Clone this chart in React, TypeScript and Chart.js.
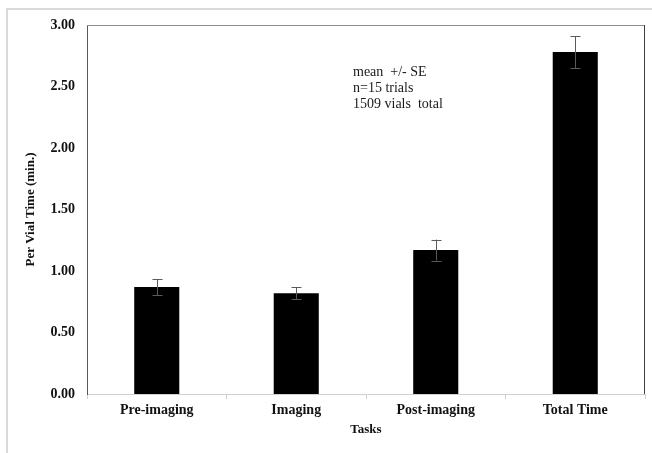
import React, { useEffect, useRef } from "react";
import { Chart, registerables } from "chart.js";

Chart.register(...registerables);

const categories = ["Pre-imaging", "Imaging", "Post-imaging", "Total Time"];
const means = [0.87, 0.82, 1.17, 2.78];
const errors = [0.065, 0.05, 0.085, 0.13];
const annotationLines = ["mean  +/- SE", "n=15 trials", "1509 vials  total"];
const yTitle = "Per Vial Time (min.)";
const xTitle = "Tasks";

const FONT = '"Liberation Serif", "Times New Roman", serif';

const decorPlugin = {
  id: "decor",
  beforeDraw(chart: any) {
    const ctx = chart.ctx;
    ctx.save();
    ctx.fillStyle = "#ffffff";
    ctx.fillRect(0, 0, chart.width, chart.height);
    ctx.strokeStyle = "#d9d9d9";
    ctx.lineWidth = 2;
    ctx.beginPath();
    ctx.moveTo(7, chart.height);
    ctx.lineTo(7, 9);
    ctx.lineTo(chart.width, 9);
    ctx.stroke();
    ctx.restore();
  },
  afterDatasetsDraw(chart: any) {
    const ctx = chart.ctx;
    const y = chart.scales.y;
    const meta = chart.getDatasetMeta(0);
    const area = chart.chartArea;
    ctx.save();
    // plot box top/right
    ctx.lineWidth = 1;
    ctx.strokeStyle = "#8c8c8c";
    ctx.beginPath();
    ctx.moveTo(area.left, area.top + 0.5);
    ctx.lineTo(area.right, area.top + 0.5);
    ctx.stroke();
    ctx.strokeStyle = "#404040";
    ctx.beginPath();
    ctx.moveTo(area.right - 0.5, area.top);
    ctx.lineTo(area.right - 0.5, area.bottom);
    ctx.stroke();
    // error bars
    ctx.strokeStyle = "#5a5a5a";
    ctx.lineWidth = 1;
    meta.data.forEach((el: any, i: number) => {
      const x = Math.round(el.x) + 0.5;
      const top = y.getPixelForValue(means[i] + errors[i]);
      const bot = y.getPixelForValue(means[i] - errors[i]);
      ctx.beginPath();
      ctx.moveTo(x, top);
      ctx.lineTo(x, bot);
      ctx.moveTo(x - 5, Math.round(top) + 0.5);
      ctx.lineTo(x + 5, Math.round(top) + 0.5);
      ctx.moveTo(x - 5, Math.round(bot) + 0.5);
      ctx.lineTo(x + 5, Math.round(bot) + 0.5);
      ctx.stroke();
    });
    // annotation
    ctx.fillStyle = "#1a1a1a";
    ctx.font = `14px ${FONT}`;
    ctx.textAlign = "left";
    ctx.textBaseline = "middle";
    annotationLines.forEach((t, i) => {
      ctx.fillText(t, area.left + 266, area.top + 47 + i * 16);
    });
    // titles
    ctx.font = `bold 13px ${FONT}`;
    ctx.fillStyle = "#111111";
    ctx.textAlign = "center";
    ctx.fillText(xTitle, (area.left + area.right) / 2, 430);
    ctx.translate(31, (area.top + area.bottom) / 2);
    ctx.rotate(-Math.PI / 2);
    ctx.fillText(yTitle, 0, 0);
    ctx.restore();
  },
};

export default function App() {
  const ref = useRef<HTMLCanvasElement>(null);
  useEffect(() => {
    if (!ref.current) return;
    const chart = new Chart(ref.current, {
      type: "bar",
      data: {
        labels: categories,
        datasets: [
          {
            data: means,
            backgroundColor: "#000000",
            borderColor: "#000000",
            borderWidth: 0,
            categoryPercentage: 1,
            barPercentage: 0.323,
          },
        ],
      },
      options: {
        responsive: false,
        animation: false,
        layout: { padding: { left: 0, top: 25, right: 7, bottom: 0 } },
        plugins: {
          legend: { display: false },
          tooltip: { enabled: false },
          title: { display: false },
        },
        scales: {
          x: {
            afterFit: (s: any) => {
              s.height = 59;
            },
            grid: {
              display: true,
              drawOnChartArea: false,
              drawTicks: true,
              tickLength: 5,
              color: "#d0d0d0",
              offset: true,
            },
            border: { display: true, color: "#d0d0d0", width: 1 },
            ticks: {
              color: "#111111",
              font: { family: FONT, size: 14, weight: "bold" },
              padding: 3,
              maxRotation: 0,
              autoSkip: false,
            },
          },
          y: {
            min: 0,
            max: 3,
            afterFit: (s: any) => {
              s.width = 87;
            },
            grid: { display: false, drawTicks: false },
            border: { display: true, color: "#595959", width: 1 },
            ticks: {
              stepSize: 0.5,
              color: "#111111",
              font: { family: FONT, size: 14, weight: "bold" },
              padding: 12,
              callback: (v: any) => Number(v).toFixed(2),
            },
          },
        },
      },
      plugins: [decorPlugin],
    });
    return () => chart.destroy();
  }, []);
  return (
    <div style={{ position: "absolute", left: 0, top: 0, width: 652, height: 453 }}>
      <canvas ref={ref} width={652} height={453} style={{ display: "block" }} />
    </div>
  );
}
